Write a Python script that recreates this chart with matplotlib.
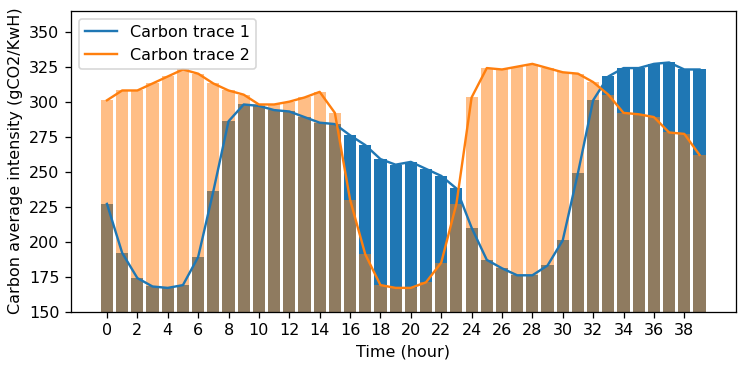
import numpy as np
import matplotlib
matplotlib.use("Agg")
import matplotlib.pyplot as plt

hours = np.arange(40)

trace1 = [227, 192, 174, 168, 167, 169, 189, 236, 286, 298,
          297, 294, 293, 289, 285, 284, 276, 269, 259, 255,
          257, 252, 247, 238, 210, 187, 181, 176, 176, 183,
          201, 249, 301, 318, 324, 324, 327, 328, 323, 323]

trace2 = [301, 308, 308, 313, 318, 323, 320, 313, 308, 305,
          298, 298, 300, 303, 307, 292, 230, 191, 169, 167,
          167, 171, 185, 227, 303, 324, 323, 325, 327, 324,
          321, 320, 314, 305, 292, 291, 289, 278, 277, 262]


def main():
    fig, ax = plt.subplots(figsize=(747 / 115, 368 / 115), dpi=115)
    fig.subplots_adjust(left=0.0946, right=0.985, top=0.971, bottom=0.153)

    ax.bar(hours, trace1, color='C0')
    ax.bar(hours, trace2, color='C1', alpha=0.5)
    ax.plot(hours, trace1, color='C0', label='Carbon trace 1')
    ax.plot(hours, trace2, color='C1', label='Carbon trace 2')

    ax.set_ylim(150, 365)
    ax.set_xticks(range(0, 40, 2))
    ax.set_xlabel('Time (hour)')
    ax.set_ylabel('Carbon average intensity (gCO2/KwH)')
    ax.legend(loc='upper left')

    plt.savefig('out.png')


if __name__ == "__main__":
    main()
